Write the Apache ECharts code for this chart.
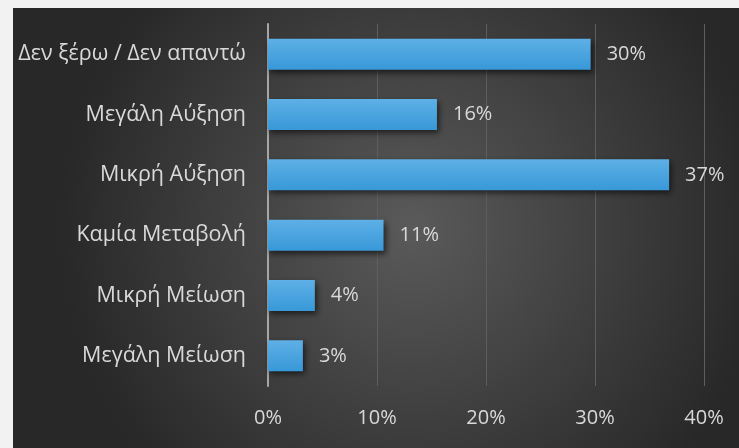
<!DOCTYPE html>
<html>
<head>
<meta charset="utf-8">
<script src="https://cdn.jsdelivr.net/npm/echarts@6/dist/echarts.min.js"></script>
<style>
html,body{margin:0;padding:0;background:#f2f2f2;width:739px;height:448px;overflow:hidden;}
#c{position:absolute;left:13px;top:8px;width:726px;height:440px;}
</style>
</head>
<body>
<div id="c"></div>
<script>
var categories = ['Δεν ξέρω / Δεν απαντώ', 'Μεγάλη Αύξηση', 'Μικρή Αύξηση', 'Καμία Μεταβολή', 'Μικρή Μείωση', 'Μεγάλη Μείωση'];
var values = [29.6, 15.5, 36.8, 10.6, 4.3, 3.2];
var tickLabels = ['0%', '10%', '20%', '30%', '40%'];

var chart = echarts.init(document.getElementById('c'));
var font = 'Open Sans';
chart.setOption({
  backgroundColor: {
    type: 'radial', x: 0.55, y: 0.5, r: 0.8,
    colorStops: [{offset: 0, color: '#5a5a5a'}, {offset: 1, color: '#282828'}]
  },
  animation: false,
  grid: {left: 255, right: 35, top: 16, bottom: 62},
  xAxis: {
    type: 'value', min: 0, max: 40, interval: 10,
    axisLine: {show: false}, axisTick: {show: false},
    splitLine: {lineStyle: {color: '#5e5e5e', width: 1}},
    axisLabel: {
      color: '#d9d9d9', fontSize: 20, fontFamily: font, margin: 22,
      formatter: function (v) { return tickLabels[Math.round(v / 10)]; }
    }
  },
  yAxis: {
    type: 'category', inverse: true, data: categories,
    axisLine: {show: true, lineStyle: {color: '#a6a6a6', width: 2}},
    axisTick: {show: false},
    axisLabel: {color: '#d9d9d9', fontSize: 21.5, fontFamily: font, margin: 22}
  },
  series: [{
    type: 'bar', data: values, barWidth: 31,
    itemStyle: {
      color: {type: 'linear', x: 0, y: 0, x2: 0, y2: 1,
        colorStops: [{offset: 0, color: '#5eb0e6'}, {offset: 1, color: '#3898d8'}]},
      shadowColor: 'rgba(0,0,0,0.6)', shadowBlur: 6, shadowOffsetX: 2, shadowOffsetY: 3
    },
    label: {
      show: true, position: 'right', distance: 16, color: '#d9d9d9', fontSize: 20, fontFamily: font,
      formatter: function (p) { return Math.round(p.value) + '%'; }
    }
  }]
});
</script>
</body>
</html>
